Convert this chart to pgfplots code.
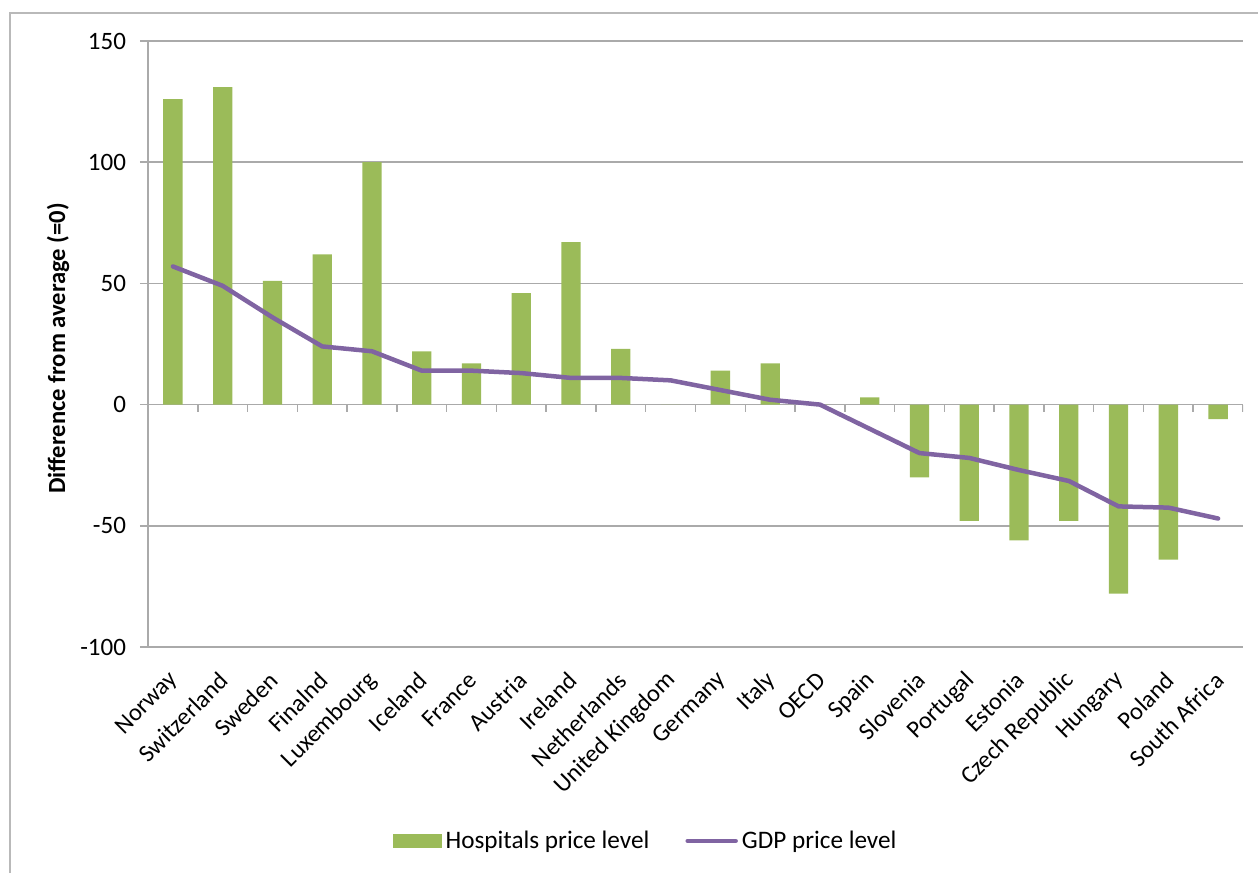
\documentclass[border=0pt]{standalone}
\usepackage{fontspec}
\setmainfont{Carlito}
\usepackage{pgfplots}
\pgfplotsset{compat=1.18}

\definecolor{bargreen}{RGB}{155,187,89}
\definecolor{gdppurple}{RGB}{128,100,162}
\definecolor{gridgray}{RGB}{170,170,170}
\definecolor{framegray}{RGB}{185,185,185}

\begin{document}
\begin{tikzpicture}
% page size and outer chart frame
\path[use as bounding box] (0,0) rectangle (629pt,436.5pt);
\draw[framegray, line width=0.6pt] (5pt,0) -- (5pt,430pt) -- (629pt,430pt);

\begin{axis}[
  at={(74pt,113pt)}, anchor=south west,
  scale only axis, width=547.5pt, height=303pt,
  xmin=-0.5, xmax=21.5,
  ymin=-100, ymax=150,
  ytick={-100,-50,0,50,100,150},
  xtick={0,...,21},
  xticklabels={Norway,Switzerland,Sweden,Finalnd,Luxembourg,Iceland,France,Austria,Ireland,Netherlands,United Kingdom,Germany,Italy,OECD,Spain,Slovenia,Portugal,Estonia,Czech Republic,Hungary,Poland,South Africa},
  axis x line*=bottom,
  axis y line*=left,
  x axis line style={draw=none},
  y axis line style={gridgray, line width=0.75pt, -},
  xtick style={draw=none},
  ytick style={gridgray, line width=0.75pt},
  tick align=outside,
  major tick length=4pt,
  ymajorgrids,
  grid style={gridgray, line width=0.75pt},
  /pgf/number format/assume math mode=true,
  yticklabel style={font=\fontsize{12.5}{15}\selectfont, xshift=-3.5pt},
  xticklabel style={font=\fontsize{12.2}{14}\selectfont, yshift=-10pt, xshift=1.5pt, rotate=45, anchor=east, inner sep=1pt},
  ylabel={\bfseries Difference from average (=0)},
  ylabel style={font=\fontsize{12.3}{15}\selectfont, at={(axis description cs:-0.0822,0.4926)}, anchor=center},
  legend columns=2,
  legend style={draw=none, fill=none, at={(0.4555,-0.320)}, anchor=center,
    font=\fontsize{12.6}{15}\selectfont,
    /tikz/every even column/.append style={column sep=16pt}},
]

% hospital price levels (bars)
\addplot[ybar, bar width=9.65pt, fill=bargreen, draw=none,
  legend image code/.code={\fill[bargreen] (0pt,-3.4pt) rectangle (24.25pt,3.4pt);}]
  coordinates {
  (0,126) (1,131) (2,51) (3,62) (4,100) (5,22) (6,17) (7,46) (8,67) (9,23)
  (10,0) (11,14) (12,17) (13,0) (14,3) (15,-30) (16,-48) (17,-56) (18,-48)
  (19,-78) (20,-64) (21,-6)
  };
\addlegendentry{Hospitals price level}

% GDP price levels (line)
\addplot[gdppurple, line width=2.25pt, line join=round, line cap=round, mark=none,
  legend image code/.code={\draw[gdppurple, line width=2.25pt, line cap=round] (1pt,0pt) -- (25pt,0pt);}]
  coordinates {
  (0,57) (1,49) (2,36) (3,24) (4,22) (5,14) (6,14) (7,13) (8,11) (9,11)
  (10,10) (11,6) (12,2) (13,0) (14,-10) (15,-20) (16,-22) (17,-27) (18,-31.5)
  (19,-42) (20,-42.5) (21,-47)
  };
\addlegendentry{GDP price level}

% category separators on the zero line
\pgfplotsinvokeforeach{0,...,21}{
  \draw[gridgray, line width=0.75pt] (axis cs:#1+0.5,0) -- ([yshift=-3.5pt]axis cs:#1+0.5,0);
}
\end{axis}
\end{tikzpicture}
\end{document}
